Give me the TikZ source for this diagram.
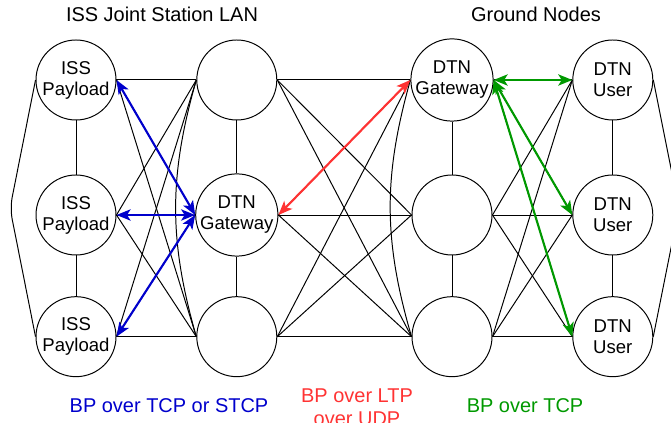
\documentclass[tikz,border=0pt]{standalone}
\usepackage{fontspec}
\setmainfont{Liberation Sans}
\usetikzlibrary{arrows.meta}

\definecolor{bpblue}{RGB}{0,0,204}
\definecolor{bpred}{RGB}{255,51,51}
\definecolor{bpgreen}{RGB}{0,153,0}

\begin{document}
\begin{tikzpicture}[
  station/.style={circle, draw, fill=white, line width=0.7pt, minimum size=2cm,
    inner sep=0pt, align=center, font=\fontsize{13.2}{15}\selectfont},
  link/.style={line width=0.7pt},
  bp/.style={line width=1.5pt, {Stealth[length=10pt,width=8pt,inset=2.5pt]}-{Stealth[length=10pt,width=8pt,inset=2.5pt]}},
  lbl/.style={inner sep=0pt, align=center, font=\fontsize{14.2}{17}\selectfont}
]
  \useasboundingbox (0,0) rectangle (16.775,10.575);
  \clip (0,0) rectangle (16.775,10.575);

  % 标题
  \node[lbl, anchor=base] (lanTitle) at (4.05,10.03) {ISS Joint Station LAN};
  \node[lbl, anchor=base] (gndTitle) at (13.4,10.03) {Ground Nodes};

  % 节点
  \node[station] (iss1) at (1.9,8.575) {ISS\\Payload};
  \node[station] (iss2) at (1.9,5.2)   {ISS\\Payload};
  \node[station] (iss3) at (1.9,2.158) {ISS\\Payload};

  \node[station] (lan1) at (5.92,8.575) {};
  \node[station] (lan2) at (5.92,5.2)   {DTN\\Gateway};
  \node[station] (lan3) at (5.92,2.158) {};

  \node[station] (gnd1) at (11.3,8.575) {DTN\\Gateway};
  \node[station] (gnd2) at (11.3,5.2)   {};
  \node[station] (gnd3) at (11.3,2.158) {};

  \node[station] (usr1) at (15.32,8.575) {DTN\\User};
  \node[station] (usr2) at (15.32,5.2)   {DTN\\User};
  \node[station] (usr3) at (15.32,2.158) {DTN\\User};

  % 竖直连线
  \foreach \n in {iss,lan,gnd,usr} {
    \draw[link] (\n1) -- (\n2);
    \draw[link] (\n2) -- (\n3);
  }

  % 相邻两列全连接
  \foreach \i in {1,2,3} {
    \foreach \j in {1,2,3} {
      \draw[link] (iss\i.east) -- (lan\j.west);
      \draw[link] (lan\i.east) -- (gnd\j.west);
      \draw[link] (gnd\i.east) -- (usr\j.west);
    }
  }

  % 弯曲连线
  \draw[link, rounded corners=8pt] (iss1.west) -- (0.25,5.37) -- (iss3.west);
  \draw[link, rounded corners=8pt] (usr1.east) -- (16.975,5.37) -- (usr3.east);
  \draw[link] (lan1.west) to[bend right=16] (lan3.west);
  \draw[link] (gnd1.west) to[bend right=16] (gnd3.west);

  % 协议箭头
  \draw[bp, bpblue] (iss1.east) -- (lan2.west);
  \draw[bp, bpblue] (iss2.east) -- (lan2.west);
  \draw[bp, bpblue] (iss3.east) -- (lan2.west);
  \draw[bp, bpred] (lan2.east) -- (gnd1.west);
  \draw[bp, bpgreen] (gnd1.east) -- (usr1.west);
  \draw[bp, bpgreen] (gnd1.east) -- (usr2.west);
  \draw[bp, bpgreen] (gnd1.east) -- (usr3.west);

  % 协议说明
  \node[lbl, bpblue, anchor=base] (tcpLbl) at (4.225,0.25) {BP over TCP or STCP};
  \node[lbl, bpred, anchor=north] (ltpLbl) at (8.925,0.875) {BP over LTP\\over UDP};
  \node[lbl, bpgreen, anchor=base] (gndLbl) at (13.125,0.25) {BP over TCP};
\end{tikzpicture}
\end{document}
